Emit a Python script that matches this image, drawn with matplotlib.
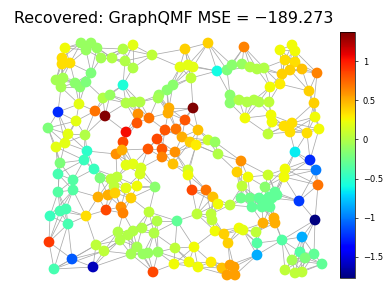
import numpy as np
import matplotlib
matplotlib.use("Agg")
import matplotlib.pyplot as plt
from matplotlib.collections import LineCollection

# node positions (pixel units) and recovered signal values
node_x = [65, 81, 91, 97, 86, 101, 112, 123, 133, 62, 62, 70, 125, 133, 91, 56, 63, 61, 75, 80,
          86, 123, 103, 110, 126, 133, 79, 58, 95, 105, 76, 48, 68, 85, 126, 138, 65, 56, 123, 87,
          84, 116, 122,
          152, 185, 208, 180, 188, 193, 191, 217, 227, 232, 173, 167, 159, 158, 140, 230, 230, 169, 168,
          193, 149, 185, 137, 165, 176, 198, 157, 182, 190, 196, 208, 215, 148, 162, 175, 218, 162,
          244, 242, 250, 257, 264, 280, 292, 295, 285, 295, 290, 282, 302, 317, 280, 270, 309, 239,
          247, 254, 259, 269, 314, 245, 271, 315, 272, 284, 292, 290, 307, 319, 268, 295, 310,
          60, 94, 58, 73, 100, 126, 133, 141, 140, 111, 117, 114, 58, 73, 126, 98, 108, 115, 131, 137,
          106, 121, 123, 86, 60, 66, 50, 68, 118, 128, 120, 133, 49, 96, 104, 131, 72, 93, 54,
          188, 188, 173, 155, 192, 206, 213, 218, 230, 149, 197, 211, 212, 177, 157, 142, 154, 215,
          224, 228, 137, 175, 194, 148, 158, 143, 174, 189, 198, 211, 222, 230, 153, 227,
          241, 316, 318, 237, 248, 268, 285, 284, 242, 265, 275, 269, 241, 250, 259, 265, 272, 277,
          252, 262, 270, 299, 263, 274, 275, 315, 239, 243, 256, 302, 257, 282, 257, 300, 314, 292,
          305, 322, 285, 295, 302, 234, 235]
node_y = [48, 43, 43, 48, 50, 58, 58, 49, 45, 58, 64, 63, 61, 68, 73, 80, 78, 87, 83, 87,
          82, 85, 98, 95, 103, 102, 104, 112, 111, 116, 121, 128, 134, 135, 132, 114, 143, 147, 142, 151,
          160, 154, 150,
          55, 49, 43, 67, 65, 67, 78, 71, 70, 65, 85, 90, 95, 98, 102, 95, 103, 108, 113,
          108, 118, 120, 123, 130, 129, 130, 139, 137, 142, 145, 140, 142, 149, 149, 152, 154, 157,
          47, 64, 67, 69, 68, 50, 45, 51, 60, 62, 70, 74, 69, 73, 84, 87, 91, 100,
          102, 100, 102, 102, 103, 118, 115, 117, 122, 126, 123, 132, 133, 129, 134, 152, 160,
          163, 169, 174, 180, 178, 165, 164, 168, 174, 179, 177, 186, 192, 190, 188, 197, 195, 193, 198, 186,
          210, 207, 213, 216, 211, 209, 216, 224, 232, 235, 240, 231, 242, 245, 251, 254, 259, 267, 269,
          170, 175, 164, 187, 190, 190, 197, 204, 205, 212, 214, 214, 220, 221, 221, 228, 233, 231,
          234, 243, 247, 248, 247, 253, 252, 254, 264, 262, 267, 262, 268, 265, 272, 275,
          161, 170, 185, 172, 177, 175, 169, 177, 186, 187, 192, 197, 198, 198, 198, 200, 198, 195,
          207, 207, 207, 201, 223, 218, 223, 220, 228, 230, 232, 237, 243, 240, 255, 252, 254, 260,
          258, 264, 270, 273, 272, 267, 275]
node_val = [0.25, -0.1, -0.1, -0.1, -0.1, -0.05, 0.0, 0.0, 0.2, 0.35, 0.35, 0.35, 0.0, 0.0, -0.2, -0.05, -0.05, -0.05, -0.15, -0.15,
            -0.2, -0.55, 0.0, -0.1, 0.0, 0.0, 0.2, -1.25, 0.7, 1.35, 0.2, -0.2, 0.2, 0.0, 1.05, 0.6, 0.2, 0.2, 0.85, -0.5,
            -0.45, 0.6, 0.5,
            0.05, 0.4, 0.4, 0.2, 0.2, 0.2, 0.05, -0.6, -0.2, -0.15, -0.15, -0.15, -0.1, -0.05, 0.0, -0.15, -0.15, 0.5, 0.5,
            1.37, 0.7, 0.8, 0.8, 0.8, 0.7, 0.45, 0.85, 0.5, 0.4, 0.3, 0.1, -0.1, 0.8, 0.8, 0.6, 0.0, 0.65,
            0.65, -0.1, 0.0, 0.0, 0.0, 0.25, 0.25, 0.25, 0.35, 0.35, 0.4, 0.4, 0.45, 0.65, 0.3, 0.25, 0.4, 0.0,
            0.0, 0.0, 0.0, 0.05, 0.4, 0.25, 0.25, 0.25, 0.25, 0.35, 0.35, 0.35, 0.35, 0.25, 0.05, -0.65, -1.25,
            -0.2, -0.45, -0.4, -0.35, -0.2, 0.2, 0.2, 0.15, 0.15, 0.05, 0.05, 0.05, -0.35, -0.35, 0.2, 0.5, 0.5, 0.4, 0.4, 0.25,
            0.85, 0.6, 0.65, 0.35, -0.4, -0.4, -0.45, -0.4, 0.0, 0.0, 0.0, 0.0, 0.9, 0.05, 0.05, -0.05, -1.1, -1.6, -0.4,
            0.1, 0.25, 0.45, -0.15, 0.85, 0.7, 0.45, 0.25, 0.05, 0.05, 0.05, 0.05, 0.05, -0.3, 0.0, 0.0, 0.0, 0.25,
            0.4, 0.4, -0.05, 0.05, 0.25, -0.1, -0.1, -0.1, 0.25, 0.25, 0.25, 0.3, 0.45, 0.55, 0.85, 0.55,
            0.6, -1.0, 0.7, 0.4, 0.25, 0.1, 0.25, 0.25, 0.05, -0.15, -0.3, -0.3, -0.25, -0.25, -0.3, -0.3, -0.3, -0.3,
            -0.3, -0.3, -0.3, -1.2, 0.5, 0.5, 0.5, -1.77, 0.25, 0.2, 0.05, -0.85, -0.35, -0.35, -0.85, -0.35, -0.3, -0.05,
            -0.2, -0.3, 0.05, 0.05, 0.05, 0.55, 0.55]

title = "Recovered: GraphQMF MSE = \u2212189.273"
cbar_ticks = [1, 0.5, 0, -0.5, -1, -1.5]
k_neighbors = 6

xy = np.column_stack([node_x, node_y]).astype(float)

# sensor-style graph: connect each node to its nearest neighbours
d = np.sqrt(((xy[:, None, :] - xy[None, :, :]) ** 2).sum(-1))
edges = set()
for i in range(len(xy)):
    for j in np.argsort(d[i])[1:k_neighbors + 1]:
        edges.add((min(i, j), max(i, j)))
segs = [[xy[i], xy[j]] for i, j in edges]

fig = plt.figure(figsize=(3.91, 3.0), dpi=100)
ax = fig.add_axes([0, 0, 1, 1])
ax.add_collection(LineCollection(segs, colors="#aaaaaa", linewidths=0.55, zorder=1))
sc = ax.scatter(node_x, node_y, c=node_val, cmap="jet", vmin=-1.77, vmax=1.37,
                s=60, edgecolors="none", zorder=2)
ax.set_xlim(0, 391)
ax.set_ylim(300, 0)
ax.axis("off")

fig.text(0.445, 0.937, title, ha="center", va="center", fontsize=11.4)

cax = fig.add_axes([0.870, 0.073, 0.038, 0.82])
cb = fig.colorbar(sc, cax=cax, ticks=cbar_ticks)
cb.ax.tick_params(labelsize=6, length=2, width=0.5)
cb.outline.set_linewidth(0.5)
cb.ax.set_yticklabels(["1", "0.5", "0", "\u22120.5", "\u22121", "\u22121.5"])

fig.savefig("out.png", dpi=100)
